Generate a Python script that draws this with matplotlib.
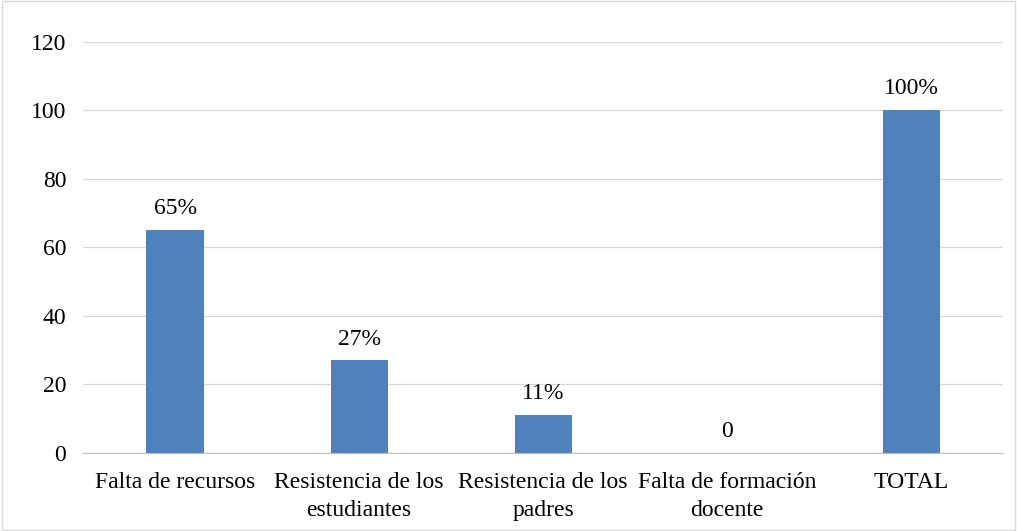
import matplotlib.pyplot as plt
from matplotlib.patches import Rectangle

# datos
categorias = ['Falta de recursos', 'Resistencia de los\nestudiantes',
              'Resistencia de los\npadres', 'Falta de formación\ndocente', 'TOTAL']
valores = [65, 27, 11, 0, 100]
etiquetas = ['65%', '27%', '11%', '0', '100%']

plt.rcParams['font.family'] = ['Liberation Serif', 'DejaVu Serif']

fig = plt.figure(figsize=(10.17, 5.31), dpi=100)
ax = fig.add_axes([0.0816, 0.147, 0.905, 0.774])

x = range(len(categorias))
bars = ax.bar(x, valores, width=0.31, color='#4F81BD', zorder=3)

for b, lab in zip(bars, etiquetas):
    ax.text(b.get_x() + b.get_width() / 2, b.get_height() + 3.2, lab,
            ha='center', va='bottom', fontsize=17)

ax.set_xlim(-0.5, 4.5)
ax.set_ylim(0, 120)
ax.set_yticks(range(0, 121, 20))
ax.set_xticks(list(x))
ax.set_xticklabels(categorias, fontsize=17, linespacing=1.4)
ax.tick_params(axis='y', labelsize=17, length=0, pad=12)
ax.tick_params(axis='x', length=0, pad=14)
ax.grid(axis='y', color='#D9D9D9', linewidth=0.9, zorder=0)
for s in ['top', 'right', 'left']:
    ax.spines[s].set_visible(False)
ax.spines['bottom'].set_color('#BFBFBF')

fig.patches.append(Rectangle((0.002, 0.002), 0.996, 0.996, transform=fig.transFigure,
                             fill=False, edgecolor='#D9D9D9', linewidth=1))

fig.savefig('out.png', dpi=100)
